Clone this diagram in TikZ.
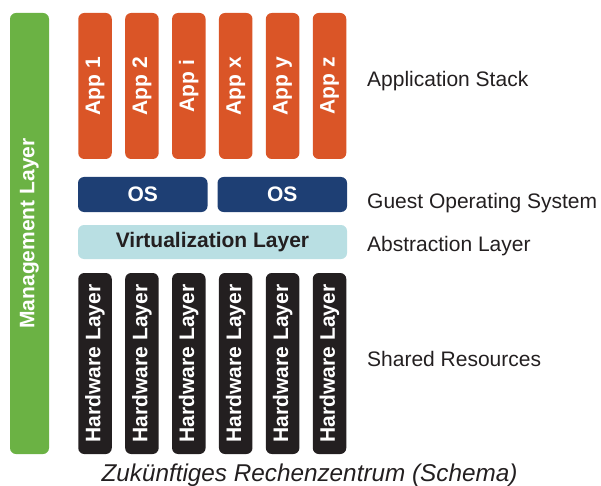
\documentclass[tikz,border=0pt]{standalone}
\usepackage{fontspec}
\setmainfont{Liberation Sans}
\usepackage{graphicx}
\usepackage{xcolor}
\usepackage{tikz}
\definecolor{AppOrange}{HTML}{DA5527}
\definecolor{OSBlue}{HTML}{1E3F74}
\definecolor{VirtCyan}{HTML}{B9DFE3}
\definecolor{MgmtGreen}{HTML}{6BB244}
\definecolor{HWBlack}{HTML}{231F20}
\definecolor{TextGray}{HTML}{231F20}
\newcommand{\layerfont}{\fontsize{21pt}{25pt}\selectfont}
\tikzstyle{tile} = [rectangle, rounded corners=6pt, 
inner sep=0pt, 
text centered, 
font=\layerfont\bfseries]
\tikzstyle{app} = [tile, 
minimum width=33.5pt, 
minimum height=146pt, 
fill=AppOrange, text=white]
\tikzstyle{osbox} = [tile, 
minimum width=129.5pt, 
minimum height=35pt, 
fill=OSBlue, text=white]
\tikzstyle{virtbox} = [tile, 
minimum width=269pt, 
minimum height=34pt, 
fill=VirtCyan, text=TextGray]
\tikzstyle{hwbox} = [tile, 
minimum width=33.5pt, 
minimum height=181pt, 
fill=HWBlack, text=white]
\tikzstyle{mgmtbox} = [tile, 
minimum width=39pt, 
minimum height=441pt, 
fill=MgmtGreen, text=white]
\tikzstyle{layername} = [anchor=base west, inner sep=0pt, 
font=\layerfont, text=TextGray]

\begin{document}
\begin{tikzpicture}[x=1pt, y=-1pt, node distance=46.9pt]
                \useasboundingbox (0,0) rectangle (601,486);
                \node[mgmtbox] (mgmt) at (29.5,233.5) {\rotatebox{90}{Management Layer}};

                % application stack
                \node[app] (app1) at (95,86) {\rotatebox{90}{App 1}};
                \node[app, right of=app1] (app2) {\rotatebox{90}{App 2}};
                \node[app, right of=app2] (app3) {\rotatebox{90}{App i}};
                \node[app, right of=app3] (app4) {\rotatebox{90}{App x}};
                \node[app, right of=app4] (app5) {\rotatebox{90}{App y}};
                \node[app, right of=app5] (app6) {\rotatebox{90}{App z}};

                % guest systems and virtualization
                \node[osbox] (os1) at (142.75,194.5) {OS};
                \node[osbox, right of=os1, xshift=92.6pt] (os2) {OS};
                \node[virtbox] (virt) at (212.5,242) {Virtualization Layer};

                % hardware
                \node[hwbox] (hw1) at (95,363.5) {\rotatebox{90}{Hardware Layer}};
                \node[hwbox, right of=hw1] (hw2) {\rotatebox{90}{Hardware Layer}};
                \node[hwbox, right of=hw2] (hw3) {\rotatebox{90}{Hardware Layer}};
                \node[hwbox, right of=hw3] (hw4) {\rotatebox{90}{Hardware Layer}};
                \node[hwbox, right of=hw4] (hw5) {\rotatebox{90}{Hardware Layer}};
                \node[hwbox, right of=hw5] (hw6) {\rotatebox{90}{Hardware Layer}};

                % names on the right
                \node[layername] (appname) at (367,87) {Application Stack};
                \node[layername] (osname) at (367,208) {Guest Operating System};
                \node[layername] (virtname) at (367,251) {Abstraction Layer};
                \node[layername] (hwname) at (367,366) {Shared Resources};

                \node[anchor=base, inner sep=0pt, text=TextGray,
                    font=\fontsize{24.3pt}{29pt}\selectfont\itshape] (caption) at (309.5,481.5)
                    {Zukünftiges Rechenzentrum (Schema)};
            \end{tikzpicture}
\end{document}
